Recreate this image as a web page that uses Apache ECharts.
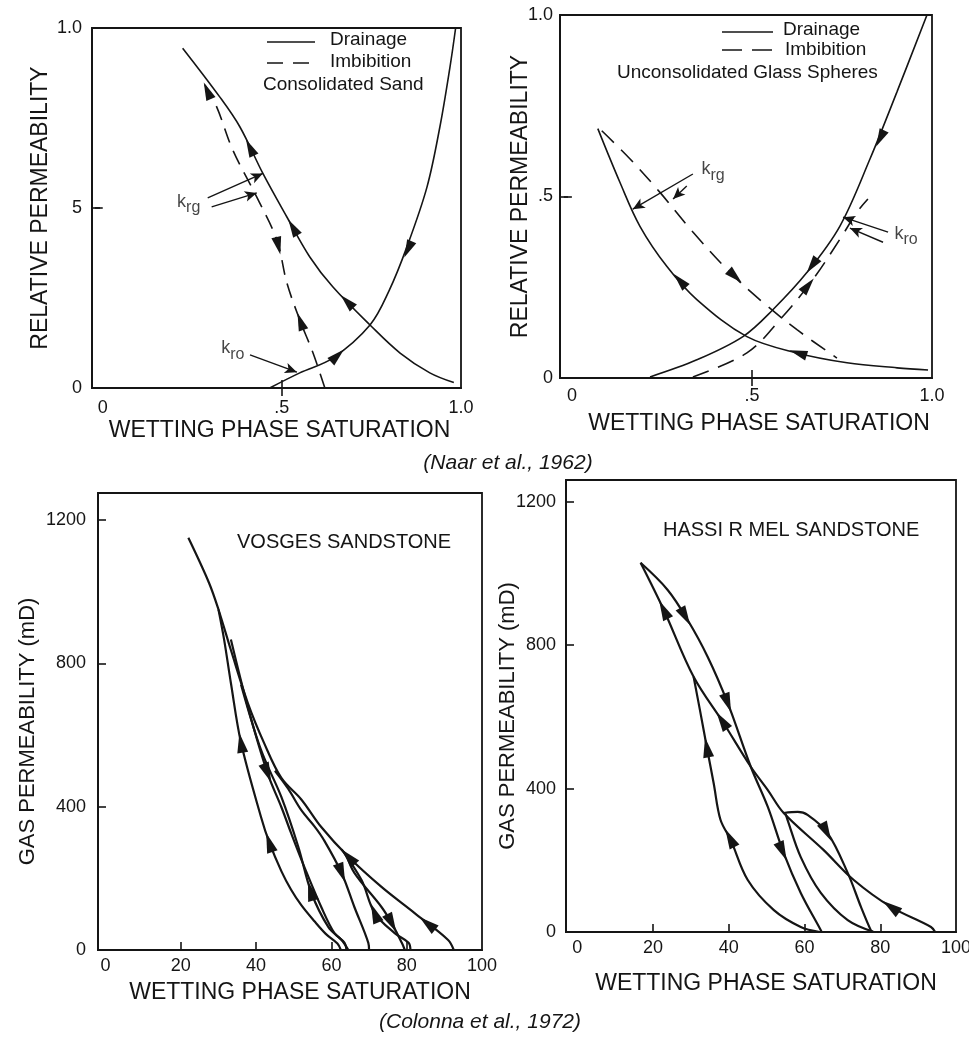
<!DOCTYPE html>
<html><head><meta charset="utf-8"><title>Relative permeability hysteresis</title>
<script src="https://cdn.jsdelivr.net/npm/echarts@6.0.0/dist/echarts.min.js"></script>
<style>html,body{margin:0;padding:0;background:#fff;}#chart{width:969px;height:1039px;}</style>
</head><body><div id="chart"></div>
<script>
// ================= DATA =================
// Panel A : Consolidated Sand (Naar et al., 1962)  [wetting saturation, relative permeability]
const sandDrainageKrg = [[0.223,0.944],[0.327,0.808],[0.383,0.725],[0.447,0.596],[0.514,0.475],[0.578,0.364],[0.642,0.281],[0.746,0.175],[0.83,0.097],[0.913,0.042],[0.98,0.015]];
const sandDrainageKro = [[0.466,0.0],[0.55,0.042],[0.642,0.083],[0.746,0.175],[0.80,0.272],[0.849,0.392],[0.905,0.558],[0.941,0.725],[0.969,0.89],[0.985,1.0]];
const sandImbibitionKrg = [[0.285,0.842],[0.318,0.781],[0.363,0.661],[0.43,0.53],[0.486,0.411],[0.514,0.292],[0.55,0.189],[0.587,0.097],[0.62,0.0]];
// arrow heads: [x, y, towardX, towardY]
const sandArrows = [[0.411,0.668,0.383,0.725],[0.531,0.446,0.514,0.475],[0.682,0.24,0.642,0.281],[0.49,0.395,0.514,0.292],[0.552,0.185,0.514,0.292],[0.292,0.826,0.285,0.842],[0.852,0.385,0.80,0.272],[0.655,0.09,0.746,0.175]];
const sandKrgLabel = [0.24,0.511];
const sandKroLabel = [0.363,0.103];
const sandKrgLeaders = [[[0.293,0.528],[0.447,0.596]],[[0.304,0.503],[0.43,0.542]]];
const sandKroLeaders = [[[0.411,0.092],[0.542,0.044]]];
const sandXTickValues = [0,0.5,1.0];
const sandXTickLabels = ['0','.5','1.0'];
const sandYTickValues = [0,0.5,1.0];
const sandYTickLabels = ['0','5','1.0'];

// Panel B : Unconsolidated Glass Spheres (Naar et al., 1962)
const glassDrainageKrg = [[0.072,0.687],[0.133,0.54],[0.189,0.418],[0.264,0.307],[0.347,0.216],[0.486,0.114],[0.625,0.069],[0.764,0.042],[0.903,0.028],[0.989,0.022]];
const glassImbibitionKrg = [[0.083,0.681],[0.161,0.604],[0.244,0.512],[0.336,0.402],[0.439,0.291],[0.531,0.208],[0.625,0.133],[0.736,0.055]];
const glassDrainageKro = [[0.217,0.003],[0.347,0.05],[0.475,0.114],[0.558,0.188],[0.653,0.291],[0.744,0.418],[0.828,0.604],[0.903,0.789],[0.986,1.0]];
const glassImbibitionKro = [[0.336,0.003],[0.486,0.069],[0.578,0.161],[0.669,0.271],[0.744,0.382],[0.792,0.457],[0.822,0.493]];
const glassArrows = [[0.856,0.66,0.828,0.604],[0.667,0.31,0.653,0.291],[0.656,0.255,0.669,0.271],[0.30,0.268,0.264,0.307],[0.628,0.069,0.486,0.114],[0.453,0.28,0.531,0.208]];
const glassKrgLabel = [0.392,0.568];
const glassKroLabel = [0.928,0.39];
const glassKrgLeaders = [[[0.336,0.562],[0.169,0.465]],[[0.319,0.529],[0.281,0.493]]];
const glassKroLeaders = [[[0.878,0.402],[0.753,0.443]],[[0.864,0.374],[0.772,0.413]]];
const glassXTickValues = [0,0.5,1.0];
const glassXTickLabels = ['0','.5','1.0'];
const glassYTickValues = [0,0.5,1.0];
const glassYTickLabels = ['0','.5','1.0'];

// Panel C : Vosges sandstone (Colonna et al., 1972)  [wetting saturation %, gas permeability mD]
const vosgesMain  = [[22,1150],[27.5,1024],[30,950],[33.3,837],[37.8,689],[42.1,578],[46.7,480],[52,420],[57.3,343],[64.5,260],[73.3,176],[82.1,103],[91,28],[92.5,0]];
const vosgesLoopA = [[30,950],[31.5,866],[33.3,745],[36,578],[41.3,371],[43.5,300],[46.7,220],[49.3,168],[52,125],[55.5,80],[58.5,45],[61.6,18],[62.5,0]];
const vosgesLoopB = [[36,740],[41.3,558],[46.7,427],[51.2,288],[54.7,159],[59.2,64],[62.7,28],[64.5,0]];
const vosgesScanC = [[33.3,866],[37.8,678],[43,494],[46.7,399],[49.3,326],[52.8,232],[57.3,120],[60.8,47],[63.5,20],[64,0]];
const vosgesScanD = [[45,500],[48.5,450],[52,390],[55.5,345],[58,307],[62.7,215],[66.1,120],[69.8,20],[70,0]];
const vosgesScanE = [[62.7,281],[68,195],[71.5,103],[76.8,47],[80.5,20],[81,0]];
const vosgesScanF = [[64,266],[66.1,215],[73.3,120],[76,75],[78.7,20],[79.5,0]];
const vosgesArrows = [[64.5,260,57.3,343],[85.5,74,82.1,103],[36,578,33.3,745],[43.5,300,41.3,371],[54.5,165,51.2,288],[43,494,46.7,399],[62.7,215,66.1,120],[71.5,103,68,195],[76,75,78.7,20]];

// Panel D : Hassi R'Mel sandstone (Colonna et al., 1972)
const hassiDrainage   = [[16.7,1030],[23.8,955],[29.1,871],[34.4,768],[39.7,639],[45.8,461],[50.3,349],[54.5,220],[59,109],[64.3,5],[64.5,0]];
const hassiImbibition = [[16.7,1030],[22.8,899],[30.7,712],[38.6,583],[45.8,461],[50.3,396],[54.5,332],[65,229],[73,145],[82.8,70],[93.4,14],[94.5,0]];
const hassiLowerLoop  = [[30.7,712],[32.5,612],[34.2,515],[36,415],[37.8,313],[40.5,257],[45,145],[51.9,61],[59,14],[64,0]];
const hassiArc        = [[54.5,332],[58.2,335],[60.8,327],[66.1,276],[71.4,165],[74.9,70],[77.5,5],[78,0]];
const hassiScan       = [[55,330],[55.5,313],[59,209],[64.3,109],[71.4,33],[78.3,0]];
const hassiArrows = [[28.5,880,34.4,768],[39.7,639,45.8,461],[54.2,225,59,109],[22.8,899,16.7,1030],[38.2,590,30.7,712],[82.8,70,73,145],[34.2,515,32.5,612],[40.3,262,37.8,313],[65.8,279,71.4,165]];

const satTickValues = [0,20,40,60,80,100];
const satTickLabels = ['0','20','40','60','80','100'];
const permTickValues = [0,400,800,1200];
const permTickLabels = ['0','400','800','1200'];

// ================= CHART =================
const INK = '#151515';
const FONT = '"Liberation Sans", Arial, Helvetica, sans-serif';
const chart = echarts.init(document.getElementById('chart'), null, {renderer: 'canvas'});

function fmt(values, labels) {
  return function (v) {
    for (let k = 0; k < values.length; k++) if (Math.abs(values[k] - v) < 1e-9) return labels[k];
    return '';
  };
}

const panels = [
  { grid: {left: 92, top: 28, width: 369, height: 360}, lw: 1.6, dash: [15, 9], arrow: [10, 18],
    x: {min: -0.03, max: 1, vals: sandXTickValues, labels: sandXTickLabels, ticks: [0.5], margin: 11, gap: 31, pad: [0,0,0,6]},
    y: {min: 0, max: 1, vals: sandYTickValues, labels: sandYTickLabels, ticks: [0.5], margin: 10, gap: 40, pad: [0,0,0,0], name: 'RELATIVE PERMEABILITY', nameSize: 23},
    curves: [{d: sandDrainageKrg}, {d: sandDrainageKro}, {d: sandImbibitionKrg, dash: true}],
    arrows: sandArrows },
  { grid: {left: 560, top: 15, width: 372, height: 363}, lw: 1.6, dash: [17, 10], arrow: [10, 18],
    x: {min: -0.033, max: 1, vals: glassXTickValues, labels: glassXTickLabels, ticks: [0.5], margin: 9, gap: 34, pad: [0,0,0,26]},
    y: {min: 0, max: 1, vals: glassYTickValues, labels: glassYTickLabels, ticks: [0.5], margin: 7, gap: 28, pad: [0,0,0,0], name: 'RELATIVE PERMEABILITY', nameSize: 23},
    curves: [{d: glassDrainageKrg}, {d: glassImbibitionKrg, dash: true}, {d: glassDrainageKro}, {d: glassImbibitionKro, dash: true}],
    arrows: glassArrows },
  { grid: {left: 98, top: 493, width: 384, height: 457}, lw: 2.2, dash: [12, 8], arrow: [11, 20],
    x: {min: -2, max: 100, vals: satTickValues, labels: satTickLabels, ticks: [20,40,60,80], margin: 7, gap: 31, pad: [0,0,0,20]},
    y: {min: 0, max: 1275, vals: permTickValues, labels: permTickLabels, ticks: [400,800,1200], margin: 12, gap: 59, pad: [0,20,0,0], name: 'GAS PERMEABILITY (mD)', nameSize: 22},
    curves: [{d: vosgesMain}, {d: vosgesLoopA}, {d: vosgesLoopB}, {d: vosgesScanC}, {d: vosgesScanD}, {d: vosgesScanE}, {d: vosgesScanF}],
    arrows: vosgesArrows },
  { grid: {left: 566, top: 480, width: 390, height: 452}, lw: 2.2, dash: [12, 8], arrow: [11, 20],
    x: {min: -3, max: 100, vals: satTickValues, labels: satTickLabels, ticks: [20,40,60,80], margin: 7, gap: 40, pad: [0,0,0,10]},
    y: {min: 0, max: 1261, vals: permTickValues, labels: permTickLabels, ticks: [400,800,1200], margin: 10, gap: 47, pad: [0,20,0,0], name: 'GAS PERMEABILITY (mD)', nameSize: 22},
    curves: [{d: hassiDrainage}, {d: hassiImbibition}, {d: hassiLowerLoop}, {d: hassiArc}, {d: hassiScan}],
    arrows: hassiArrows }
];

const grid = [], xAxis = [], yAxis = [], series = [];
panels.forEach((p, i) => {
  grid.push(Object.assign({show: true, borderColor: INK, borderWidth: 1.8, backgroundColor: 'transparent', containLabel: false, outerBoundsMode: 'none'}, p.grid));
  xAxis.push({
    type: 'value', gridIndex: i, min: p.x.min, max: p.x.max, position: 'bottom',
    axisLine: {show: true, onZero: false, lineStyle: {color: INK, width: 2}},
    axisTick: {show: true, inside: true, length: 8, customValues: p.x.ticks, lineStyle: {color: INK, width: 1.6}},
    axisLabel: {show: true, customValues: p.x.vals, formatter: fmt(p.x.vals, p.x.labels), margin: p.x.margin, color: INK, fontSize: 18, fontFamily: FONT},
    splitLine: {show: false},
    name: 'WETTING PHASE SATURATION', nameLocation: 'middle', nameGap: p.x.gap, nameMoveOverlap: false,
    nameTextStyle: {color: INK, fontSize: 23, fontFamily: FONT, padding: p.x.pad}
  });
  yAxis.push({
    type: 'value', gridIndex: i, min: p.y.min, max: p.y.max, position: 'left',
    axisLine: {show: true, onZero: false, lineStyle: {color: INK, width: 2}},
    axisTick: {show: true, inside: true, length: 8, customValues: p.y.ticks, lineStyle: {color: INK, width: 1.6}},
    axisLabel: {show: true, customValues: p.y.vals, formatter: fmt(p.y.vals, p.y.labels), margin: p.y.margin, color: INK, fontSize: 18, fontFamily: FONT},
    splitLine: {show: false},
    name: p.y.name, nameLocation: 'middle', nameGap: p.y.gap, nameMoveOverlap: false,
    nameTextStyle: {color: INK, fontSize: p.y.nameSize, fontFamily: FONT, padding: p.y.pad}
  });
  p.curves.forEach(c => {
    series.push({
      type: 'line', xAxisIndex: i, yAxisIndex: i, data: c.d, smooth: 0.35,
      showSymbol: false, symbol: 'none', silent: true, clip: false, z: 2,
      lineStyle: {color: INK, width: p.lw, type: c.dash ? p.dash : 'solid'}
    });
  });
  series.push({
    id: 'arrows' + i, type: 'scatter', xAxisIndex: i, yAxisIndex: i, silent: true, z: 4,
    symbol: 'path://M0,0L5,16L-5,16Z', symbolSize: p.arrow,
    itemStyle: {color: INK, opacity: 1},
    data: p.arrows.map(a => ({value: [a[0], a[1]]}))
  });
});
// frame ticks on top / right edges of the upper panels
[0, 1].forEach(i => {
  const p = panels[i];
  xAxis.push({type: 'value', gridIndex: i, min: p.x.min, max: p.x.max, position: 'top',
    axisLine: {show: false}, axisLabel: {show: false}, splitLine: {show: false},
    axisTick: {show: true, inside: true, length: 8, customValues: [0.5], lineStyle: {color: INK, width: 1.6}}});
  yAxis.push({type: 'value', gridIndex: i, min: p.y.min, max: p.y.max, position: 'right',
    axisLine: {show: false}, axisLabel: {show: false}, splitLine: {show: false},
    axisTick: {show: true, inside: true, length: 8, customValues: [0.5], lineStyle: {color: INK, width: 1.6}}});
});

// k_rg / k_ro annotations with leader arrows
function annotation(gi, at, sub, leaders) {
  return {
    type: 'scatter', xAxisIndex: gi, yAxisIndex: gi, silent: true, z: 5,
    symbolSize: 1, itemStyle: {color: 'rgba(0,0,0,0)'},
    label: {show: true, position: 'inside', formatter: '{a|k}{b|' + sub + '}',
      rich: {a: {fontSize: 18, fontFamily: FONT, color: INK, verticalAlign: 'top'},
             b: {fontSize: 16, fontFamily: FONT, color: INK, verticalAlign: 'top', padding: [7, 0, 0, 0]}}},
    data: [at],
    markLine: {silent: true, animation: false, symbol: ['none', 'arrow'], symbolSize: [8, 12],
      label: {show: false}, lineStyle: {color: INK, width: 1.4, type: 'solid'},
      emphasis: {disabled: true},
      data: leaders.map(l => [{coord: l[0]}, {coord: l[1]}])}
  };
}
series.push(annotation(0, sandKrgLabel, 'rg', sandKrgLeaders));
series.push(annotation(0, sandKroLabel, 'ro', sandKroLeaders));
series.push(annotation(1, glassKrgLabel, 'rg', glassKrgLeaders));
series.push(annotation(1, glassKroLabel, 'ro', glassKroLeaders));

const T = (x, y, text, size, extra) => ({type: 'text', x: x, y: y, silent: true, z: 10,
  style: Object.assign({text: text, fill: INK, fontSize: size, fontFamily: FONT, align: 'left', verticalAlign: 'middle'}, extra || {})});
const L = (x1, y1, x2, y2, dash) => ({type: 'line', silent: true, z: 10,
  shape: {x1: x1, y1: y1, x2: x2, y2: y2}, style: {stroke: INK, lineWidth: 1.6, lineDash: dash || null}});

const graphic = [
  L(267, 42, 315, 42), T(330, 40, 'Drainage', 19),
  L(267, 63, 315, 63, [16, 10]), T(330, 62, 'Imbibition', 19),
  T(263, 85, 'Consolidated Sand', 19),
  L(722, 32, 773, 32), T(783, 30, 'Drainage', 19),
  L(722, 50, 773, 50, [20, 10]), T(785, 50, 'Imbibition', 19),
  T(617, 73, 'Unconsolidated Glass Spheres', 19),
  T(237, 542, 'VOSGES SANDSTONE', 20),
  T(663, 530, 'HASSI R MEL SANDSTONE', 20),
  T(508, 463, '(Naar et al., 1962)', 21, {align: 'center', fontStyle: 'italic'}),
  T(480, 1022, '(Colonna et al., 1972)', 21, {align: 'center', fontStyle: 'italic'})
];

chart.setOption({
  backgroundColor: '#ffffff', animation: false,
  grid: grid, xAxis: xAxis, yAxis: yAxis, series: series, graphic: graphic
});

// orient the arrow heads along their curves (computed in pixel space through the axes)
const upd = panels.map((p, i) => ({
  id: 'arrows' + i,
  data: p.arrows.map(a => {
    const s = chart.convertToPixel({xAxisIndex: i, yAxisIndex: i}, [a[0], a[1]]);
    const t = chart.convertToPixel({xAxisIndex: i, yAxisIndex: i}, [a[2], a[3]]);
    const ang = Math.atan2(-(t[1] - s[1]), t[0] - s[0]) * 180 / Math.PI;
    return {value: [a[0], a[1]], symbolRotate: ang - 90};
  })
}));
chart.setOption({series: upd});
</script></body></html>
